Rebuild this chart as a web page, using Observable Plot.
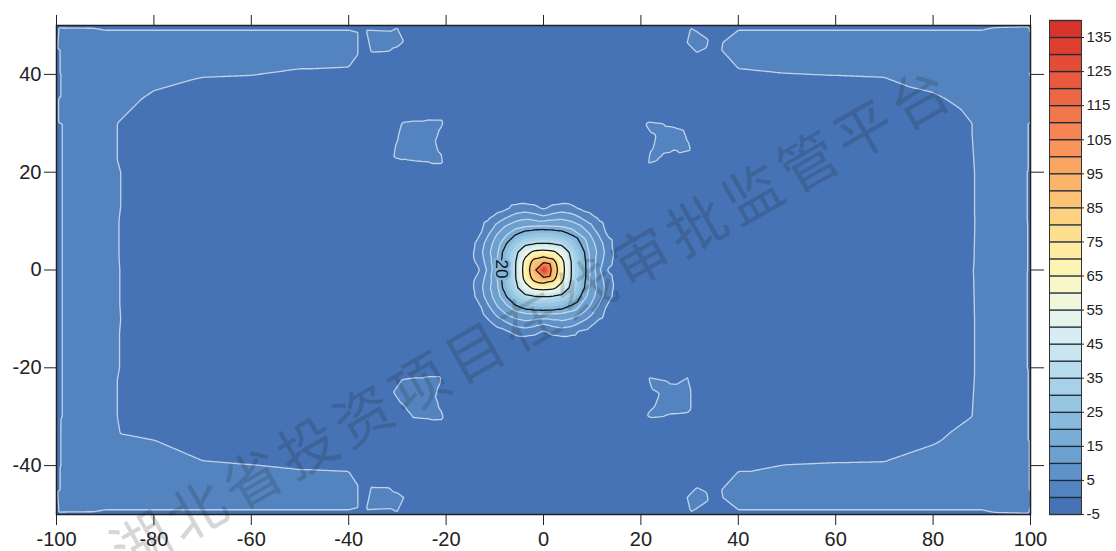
<!DOCTYPE html>
<html><head><meta charset="utf-8">
<script src="https://cdn.jsdelivr.net/npm/d3@7"></script>
<script src="https://cdn.jsdelivr.net/npm/@observablehq/plot@0.6"></script>
<style>
body{margin:0;background:#fff;}
#wrap{position:relative;width:1116px;height:551px;overflow:hidden;font-family:"Liberation Sans",Arial,sans-serif;}
#main{position:absolute;left:0;top:0;}
#bar{position:absolute;left:1040px;top:0;}
#wm{position:absolute;left:531px;top:316px;transform:translate(-50%,-50%) rotate(-29.7deg);font-family:"Noto Sans CJK SC";font-size:58px;letter-spacing:6px;color:rgba(30,30,30,0.18);white-space:nowrap;pointer-events:none;}
</style></head><body>
<div id="wrap"><div id="main"></div><div id="bar"></div><div id="wm">湖北省投资项目在线审批监管平台</div></div>
<script>
// ---- coarse field samples (whole domain) ----
const gridX = [-100,-90,-80,-70,-60,-50,-40,-30,-20,-10,0,10,20,30,40,50,60,70,80,90,100];
const gridY = [50,45,40,35,30,20,10,0,-10,-20,-30,-35,-40,-45,-50];
const gridValues = [
  [-0.5,-0.6,-0.6,-0.6,-0.6,-0.6,-0.6,-0.5,-2,-2,-2,-2,-2,-0.5,-0.6,-0.6,-0.6,-0.6,-0.6,-0.6,-0.3],
  [-0.2,2.5,2.5,2.5,2.5,2.5,2.5,-1.5,-2,-2,-2,-2,-2,-1.5,2.5,2.5,2.5,2.5,2.5,2.5,-0.05],
  [-0.2,2,3,0.41,0.13,-0.75,-1.07,-2,-2,-2,-2,-2,-2,-2,-0.79,-0.12,0.13,0.41,3,2,-0.05],
  [-0.2,4.5,-1.5,-3,-3,-3,-3,-3,-3,-2,-2,-2,-3,-3,-3,-3,-3,-3,-1.05,3,-0.05],
  [-0.2,1.5,-4.5,-2,-2,-2,-2,-2,-2,-2,-2,-2,-2,-2,-2,-2,-2,-2,-4,1,-0.05],
  [-0.2,1.5,-3.2,-2,-2,-2,-2,-2,-2,-2,-2,-2,-2,-2,-2,-2,-2,-2,-4,0.7,-0.05],
  [-0.2,1.5,-3.8,-2,-2,-2,-2,-2,-2,-2,-2,-2,-2,-2,-2,-2,-2,-2,-4.2,0.7,-0.05],
  [-0.2,1.5,-3.5,-2,-2,-2,-2,-2,-2,-2,-2,-2,-2,-2,-2,-2,-2,-2,-3.8,0.8,-0.05],
  [-0.2,1.5,-3.2,-2,-2,-2,-2,-2,-2,-2,-2,-2,-2,-2,-2,-2,-2,-2,-4,0.7,-0.05],
  [-0.2,1.5,-3.6,-2,-2,-2,-2,-2,-2,-2,-2,-2,-2,-2,-2,-2,-2,-2,-4,0.7,-0.05],
  [-0.2,1.5,-4.5,-2,-2,-2,-2,-2,-2,-2,-2,-2,-2,-2,-2,-2,-2,-2,-4,1,-0.05],
  [-0.2,2,0.2,-3,-3,-3,-3,-3,-3,-2,-2,-2,-3,-3,-3,-3,-3,-3,-0.53,3,-0.05],
  [-0.2,2,3,0.75,0.13,-0.48,-0.79,-2,-2,-2,-2,-2,-2,-2,-0.79,0.13,0.41,0.57,3,2,-0.05],
  [-0.2,2.5,2.5,2.5,2.5,2.5,2.5,-1.5,-2,-2,-2,-2,-2,-1.5,2.5,2.5,2.5,2.5,2.5,2.5,-0.05],
  [-0.5,-0.6,-0.6,-0.6,-0.6,-0.6,-0.6,-0.5,-2,-2,-2,-2,-2,-0.5,-0.6,-0.6,-0.6,-0.6,-0.6,-0.6,-0.3]
];
// ---- fine samples around the central peak ----
const peakX = [-15.2,-13.3,-11.4,-9.5,-7.6,-5.7,-3.8,-1.9,0,1.9,3.8,5.7,7.6,9.5,11.4,13.3,15.2];
const peakY = [14.4,12.6,10.8,9,7.2,5.4,3.6,1.8,0,-1.8,-3.6,-5.4,-7.2,-9,-10.8,-12.6,-14.4];
const peakValues = [
  [-2,-2,-2,-2,-2,-2,-2,-2,-2,-2,-2,-2,-2,-2,-2,-2,-2],
  [-2,-2,-2,-1.5,-0.6,1.5,2.5,1.5,-0.5,1.5,2.5,1.5,-0.6,-1.5,-2,-2,-2],
  [-2,-2,-1,1.5,4.7,7.5,8.6,7.5,6,7.5,8.6,7.5,4.7,1.5,-1,-2,-2],
  [-2,-1.5,1.5,6.4,10.4,12.9,14.3,14.9,15,14.9,14.3,12.9,10.4,6.4,1.5,-1.5,-2],
  [-2,-0.6,4.7,10.4,14.8,20,24.5,26.4,27,26.4,24.5,20,14.8,10.4,4.7,-0.6,-2],
  [-2,1.5,7.5,12.9,20,29.6,36.4,39.5,40,39.5,36.4,29.6,20,12.9,7.5,1.5,-2],
  [-2,2.5,8.6,14.3,24.5,36.4,53,64.5,67,64.5,53,36.4,24.5,14.3,8.6,2.5,-2],
  [-2,1.5,7.5,14.9,26.4,39.5,64.5,86,93,86,64.5,39.5,26.4,14.9,7.5,1.5,-2],
  [-2,-0.5,6,15,27,40,67,93,135,93,67,40,27,15,6,-0.5,-2],
  [-2,1.5,7.5,14.9,26.4,39.5,64.5,86,93,86,64.5,39.5,26.4,14.9,7.5,1.5,-2],
  [-2,2.5,8.6,14.3,24.5,36.4,53,64.5,67,64.5,53,36.4,24.5,14.3,8.6,2.5,-2],
  [-2,1.5,7.5,12.9,20,29.6,36.4,39.5,40,39.5,36.4,29.6,20,12.9,7.5,1.5,-2],
  [-2,-0.6,4.7,10.4,14.8,20,24.5,26.4,27,26.4,24.5,20,14.8,10.4,4.7,-0.6,-2],
  [-2,-1.5,1.5,6.4,10.4,12.9,14.3,14.9,15,14.9,14.3,12.9,10.4,6.4,1.5,-1.5,-2],
  [-2,-2,-1,1.5,4.7,7.5,8.6,7.5,6,7.5,8.6,7.5,4.7,1.5,-1,-2,-2],
  [-2,-2,-2,-1.5,-0.6,1.5,2.5,1.5,-0.5,1.5,2.5,1.5,-0.6,-1.5,-2,-2,-2],
  [-2,-2,-2,-2,-2,-2,-2,-2,-2,-2,-2,-2,-2,-2,-2,-2,-2]
];
// ---- islands: [x, y, value] (inside points positive, outline points negative) ----
const islandTopLeft = [
  [-28,29.1,3],[-21.8,29.6,3],[-23.7,26.4,3],[-21.8,22.8,3],[-26.3,23.8,3],[-29.5,23.8,3],
  [-24.9,28.9,3],[-22.9,28.0,3],[-23.2,23.65,3],[-28.5,24.1,3],[-28.45,26.25,3],[-25.5,26.3,3],
  [-29.7,30.9,-2],[-20,31.3,-2],[-21.2,26.6,-2],[-20,21.1,-2],[-27,21.4,-2],[-31.6,22.5,-2],
  [-25,31.4,-2],[-20.5,28.9,-2],[-20.5,24.45,-2],[-23.8,21.1,-2],[-28.6,21.7,-2],[-30.9,26.8,-2]
];
const islandBottomLeft = [
  [-27.9,-23.4,3],[-22.1,-22.9,3],[-23.7,-26,3],[-21.7,-29.5,3],[-26.1,-28.8,3],[-29.3,-25.3,3],
  [-25,-23.6,3],[-23.1,-24.25,3],[-22.9,-27.8,3],[-23.8,-28.9,3],[-27.6,-26.7,3],[-28.7,-24.55,3],[-25,-26,3],
  [-29.7,-21.7,-2],[-20.4,-21.1,-2],[-21.2,-25.9,-2],[-20,-31.3,-2],[-27.1,-31.1,-2],[-31.8,-24.8,-2],
  [-25.1,-21.1,-2],[-20.7,-23.6,-2],[-20.5,-28.55,-2],[-23.65,-31.4,-2],[-29.5,-28.2,-2],[-30.7,-23.1,-2]
];
const islandTopRight = [
  [22.5,29.2,3],[27.5,27.7,3],[28.8,25,3],[24.3,25.4,3],[22.6,22.9,3],[24.4,26.5,3],
  [24.7,27.9,3],[28.0,26.0,3],[23.4,24.0,3],[23.55,29.2,3],[25.8,26.6,3],
  [20.7,30.9,-2],[29.5,29.2,-2],[31.1,24.2,-2],[24.9,22.9,-2],[20.9,21.1,-2],[22,27.2,-2],
  [25.25,30.4,-2],[30.4,26.9,-2],[27.3,23.2,-2],[23.67,22.0,-2],[21.34,24.6,-2],[21.3,28.1,-2]
];
const islandBottomRight = [
  [22.7,-23.1,3],[28.9,-25.1,3],[28.9,-27.9,3],[23.1,-29.2,3],[25.1,-26.3,3],
  [25.5,-24.7,3],[28.7,-26.55,3],[26.4,-27.9,3],[24.2,-28.6,3],[23.9,-23.3,3],[26.5,-26.5,3],
  [20.9,-21.3,-2],[31.1,-24.1,-2],[31.1,-29,-2],[21.3,-30.9,-2],[22.6,-25.7,-2],
  [26.2,-22.3,-2],[31.2,-26.55,-2],[25.9,-30.4,-2],[21.86,-27.7,-2],[21.7,-24.4,-2]
];
const smallIslands = [
  [-32.2,46.6,3],[-30.5,46.6,3],[-27.8,46.8,-1.5],[-31.5,43.8,-1.5],[-31.5,49.6,-1],[-37,43.5,-1.5],[-37.5,49.7,-0.8],
  [-32.2,-46.4,3],[-30.5,-46.4,3],[-27.8,-46.6,-1.5],[-31.5,-43.6,-1.5],[-31.5,-49.6,-1],[-37,-43.5,-1.5],[-37.5,-49.7,-0.8],
  [31.5,46.4,3],[28.5,46.5,-1.5],[31.5,43.5,-1.5],[34.5,45,-1.5],[35,47.5,-1.5],[31.5,49.5,-1],
  [31.5,-46.4,3],[28.5,-46.5,-1.5],[31.5,-43.5,-1.5],[34.5,-45,-1.5],[35,-47.5,-1.5],[31.5,-49.5,-1]
];
const cornerPoints = [[-98,48,1.5],[98.5,48.5,1.5],[-98,-48,1.5],[98.5,-48.5,1.5]];

// ---- levels / colours / ticks ----
const levels = [-5,0,5,10,15,20,25,30,35,40,45,50,55,60,65,70,75,80,85,90,95,100,105,110,115,120,125,130,135];
const barEdges = [-5,0,5,10,15,20,25,30,35,40,45,50,55,60,65,70,75,80,85,90,95,100,105,110,115,120,125,130,135,140];
const bandColors = ["#4673b5","#5484c0","#5f92c8","#6ba0cf","#79add6","#88badd","#97c6e3","#a7d1e8","#b8dcec","#c8e5f0","#d8edf1","#e6f3ea","#f1f7dc","#f8f7c8","#fdf3b2","#feeaa0","#fedf90","#fdd182","#fdc375","#fcb46a","#fba562","#f9955a","#f68553","#f2764b","#ee6744","#e9593d","#e44c36","#df3f30","#d9342b"];
const lightLevels = [0,5,10,15];
const darkLevels = [20,40,60,80,100];
const xTicks = [-100,-80,-60,-40,-20,0,20,40,60,80,100];
const yTicks = [-40,-20,0,20,40];
const barTicks = [-5,5,15,25,35,45,55,65,75,85,95,105,115,125,135];
const labelX = [-8.7], labelY = [0.2], labelText = ["20"];

// ---- build sample table ----
const px0 = Math.min(...peakX), px1 = Math.max(...peakX), py0 = Math.min(...peakY), py1 = Math.max(...peakY);
const samples = [];
gridY.forEach((y,i) => gridX.forEach((x,j) => {
  if (!(x >= px0 && x <= px1 && y >= py0 && y <= py1)) samples.push({x, y, v: gridValues[i][j]});
}));
peakY.forEach((y,i) => peakX.forEach((x,j) => samples.push({x, y, v: peakValues[i][j]})));
[islandTopLeft, islandBottomLeft, islandTopRight, islandBottomRight, smallIslands, cornerPoints]
  .forEach(list => list.forEach(([x,y,v]) => samples.push({x, y, v})));

const colorScale = {type: "threshold", domain: levels.slice(1), range: bandColors};
const font = "Liberation Sans, Arial, sans-serif";
const fmt = d => String(d);

const main = Plot.plot({
  width: 1048, height: 551,
  marginLeft: 56, marginRight: 18, marginTop: 25, marginBottom: 37,
  style: {fontFamily: font, fontSize: "20px", color: "#222", background: "transparent", overflow: "visible"},
  x: {domain: [-100, 100]},
  y: {domain: [-50, 50]},
  color: colorScale,
  marks: [
    Plot.frame({fill: bandColors[0]}),
    Plot.contour(samples, {x: "x", y: "y", fill: "v", interpolate: "barycentric", thresholds: levels, stroke: "none"}),
    Plot.contour(samples, {x: "x", y: "y", value: "v", interpolate: "barycentric", thresholds: lightLevels, fill: "none", stroke: "#cddcee", strokeWidth: 1.3, strokeOpacity: 0.9}),
    Plot.contour(samples, {x: "x", y: "y", value: "v", interpolate: "barycentric", thresholds: darkLevels, fill: "none", stroke: "#141414", strokeWidth: 1.3}),
    Plot.text(labelText, {x: (d,i) => labelX[i], y: (d,i) => labelY[i], text: d => d, rotate: 90, fontSize: 17, fill: "#111", stroke: "#84b5da", strokeWidth: 5, paintOrder: "stroke"}),
    Plot.frame({stroke: "#222", strokeWidth: 1.5}),
    Plot.axisX({anchor: "bottom", ticks: xTicks, tickSize: 11, tickPadding: 6, tickFormat: fmt, label: null, fontSize: 20}),
    Plot.axisX({anchor: "top", ticks: xTicks, tickSize: 11, tickFormat: () => "", label: null}),
    Plot.axisY({anchor: "left", ticks: yTicks, tickSize: 12, tickPadding: 3, tickFormat: fmt, label: null, fontSize: 20}),
    Plot.axisY({anchor: "right", ticks: yTicks, tickSize: 13, tickFormat: () => "", label: null})
  ]
});
document.getElementById("main").appendChild(main);

const bar = Plot.plot({
  width: 76, height: 551,
  marginTop: 20, marginBottom: 37, marginLeft: 9, marginRight: 35,
  style: {fontFamily: font, fontSize: "15px", color: "#222", background: "transparent", overflow: "visible"},
  x: {domain: [0, 1], axis: null},
  y: {domain: [-5, 140], axis: null},
  color: colorScale,
  marks: [
    Plot.rect(levels, {x1: 0, x2: 1, y1: d => d, y2: (d,i) => barEdges[i+1], fill: d => d}),
    Plot.ruleY(barEdges, {stroke: "#1e2b3c", strokeWidth: 1.4}),
    Plot.frame({stroke: "#333", strokeWidth: 1}),
    Plot.axisY({anchor: "right", ticks: barTicks, tickSize: 2, tickPadding: 3, tickFormat: fmt, label: null, fontSize: 15})
  ]
});
document.getElementById("bar").appendChild(bar);
</script>
</body></html>
